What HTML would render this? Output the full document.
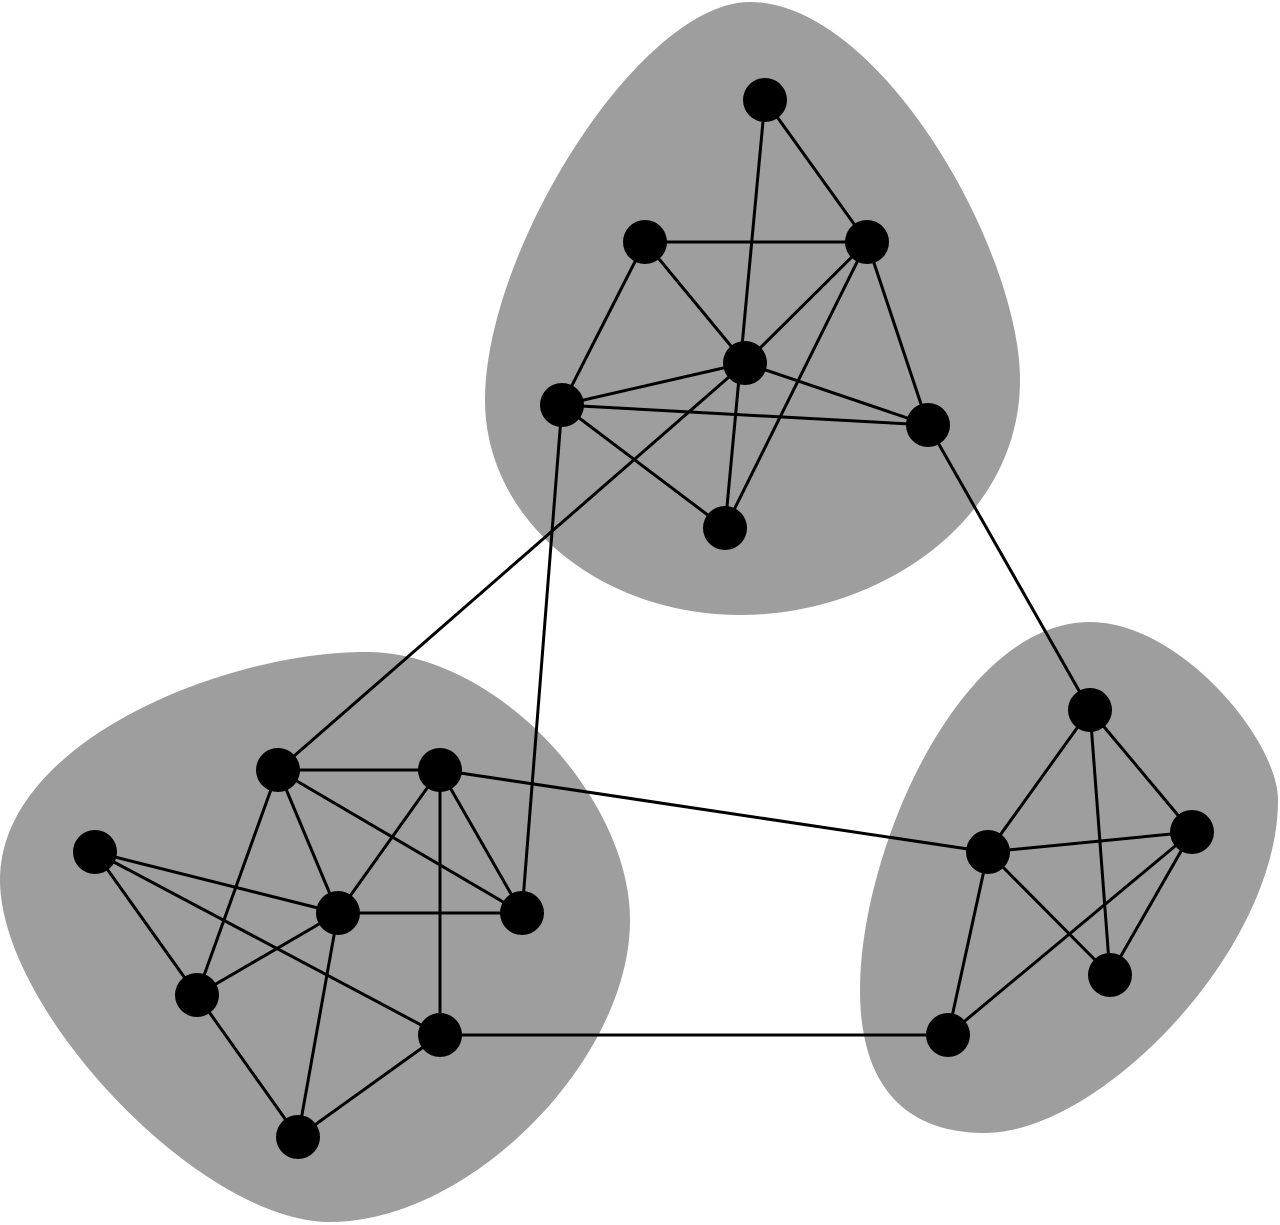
<!DOCTYPE html>
<html><head><meta charset="utf-8"><style>html,body{margin:0;padding:0;background:#fff}svg{display:block}</style></head>
<body>
<svg width="1280" height="1225" viewBox="0 0 1280 1225" xmlns="http://www.w3.org/2000/svg">
<g fill="#9e9e9e">
<path d="M750,2 C880,2 1020,250 1020,380 C1020,520 880,615 740,615 C600,615 485,520 485,400 C485,250 640,2 750,2 Z"/>
<path d="M0,880 C0,740 230,650 370,652 C500,655 630,800 630,920 C630,1060 470,1222 330,1222 C200,1222 0,1010 0,880 Z"/>
<path d="M860,990 C860,850 960,622 1090,622 C1180,622 1278,740 1278,800 C1278,950 1100,1133 985,1133 C900,1133 860,1080 860,990 Z"/>
</g>
<g stroke="#000" stroke-width="3" fill="none">
<line x1="765" y1="100" x2="867" y2="242"/>
<line x1="765" y1="100" x2="725" y2="528"/>
<line x1="645" y1="242" x2="867" y2="242"/>
<line x1="645" y1="242" x2="745" y2="363"/>
<line x1="645" y1="242" x2="562" y2="405"/>
<line x1="867" y1="242" x2="745" y2="363"/>
<line x1="867" y1="242" x2="928" y2="425"/>
<line x1="867" y1="242" x2="725" y2="528"/>
<line x1="562" y1="405" x2="745" y2="363"/>
<line x1="562" y1="405" x2="928" y2="425"/>
<line x1="562" y1="405" x2="725" y2="528"/>
<line x1="745" y1="363" x2="928" y2="425"/>
<line x1="745" y1="363" x2="278" y2="770"/>
<line x1="562" y1="405" x2="522" y2="913"/>
<line x1="928" y1="425" x2="1090" y2="710"/>
<line x1="278" y1="770" x2="440" y2="770"/>
<line x1="278" y1="770" x2="338" y2="913"/>
<line x1="278" y1="770" x2="522" y2="913"/>
<line x1="278" y1="770" x2="197" y2="995"/>
<line x1="440" y1="770" x2="338" y2="913"/>
<line x1="440" y1="770" x2="522" y2="913"/>
<line x1="440" y1="770" x2="440" y2="1035"/>
<line x1="440" y1="770" x2="988" y2="852"/>
<line x1="95" y1="852" x2="338" y2="913"/>
<line x1="95" y1="852" x2="197" y2="995"/>
<line x1="95" y1="852" x2="440" y2="1035"/>
<line x1="338" y1="913" x2="522" y2="913"/>
<line x1="338" y1="913" x2="197" y2="995"/>
<line x1="338" y1="913" x2="298" y2="1137"/>
<line x1="197" y1="995" x2="298" y2="1137"/>
<line x1="440" y1="1035" x2="298" y2="1137"/>
<line x1="440" y1="1035" x2="948" y2="1035"/>
<line x1="1090" y1="710" x2="988" y2="852"/>
<line x1="1090" y1="710" x2="1192" y2="832"/>
<line x1="1090" y1="710" x2="1110" y2="975"/>
<line x1="988" y1="852" x2="1192" y2="832"/>
<line x1="988" y1="852" x2="1110" y2="975"/>
<line x1="988" y1="852" x2="948" y2="1035"/>
<line x1="1192" y1="832" x2="1110" y2="975"/>
<line x1="1192" y1="832" x2="948" y2="1035"/>
</g>
<g fill="#000">
<circle cx="765" cy="100" r="22"/><circle cx="645" cy="242" r="22"/><circle cx="867" cy="242" r="22"/>
<circle cx="745" cy="363" r="22"/><circle cx="562" cy="405" r="22"/><circle cx="928" cy="425" r="22"/>
<circle cx="725" cy="528" r="22"/>
<circle cx="278" cy="770" r="22"/><circle cx="440" cy="770" r="22"/><circle cx="95" cy="852" r="22"/>
<circle cx="338" cy="913" r="22"/><circle cx="522" cy="913" r="22"/><circle cx="197" cy="995" r="22"/>
<circle cx="440" cy="1035" r="22"/><circle cx="298" cy="1137" r="22"/>
<circle cx="1090" cy="710" r="22"/><circle cx="988" cy="852" r="22"/><circle cx="1192" cy="832" r="22"/>
<circle cx="1110" cy="975" r="22"/><circle cx="948" cy="1035" r="22"/>
</g>
</svg>
</body></html>
